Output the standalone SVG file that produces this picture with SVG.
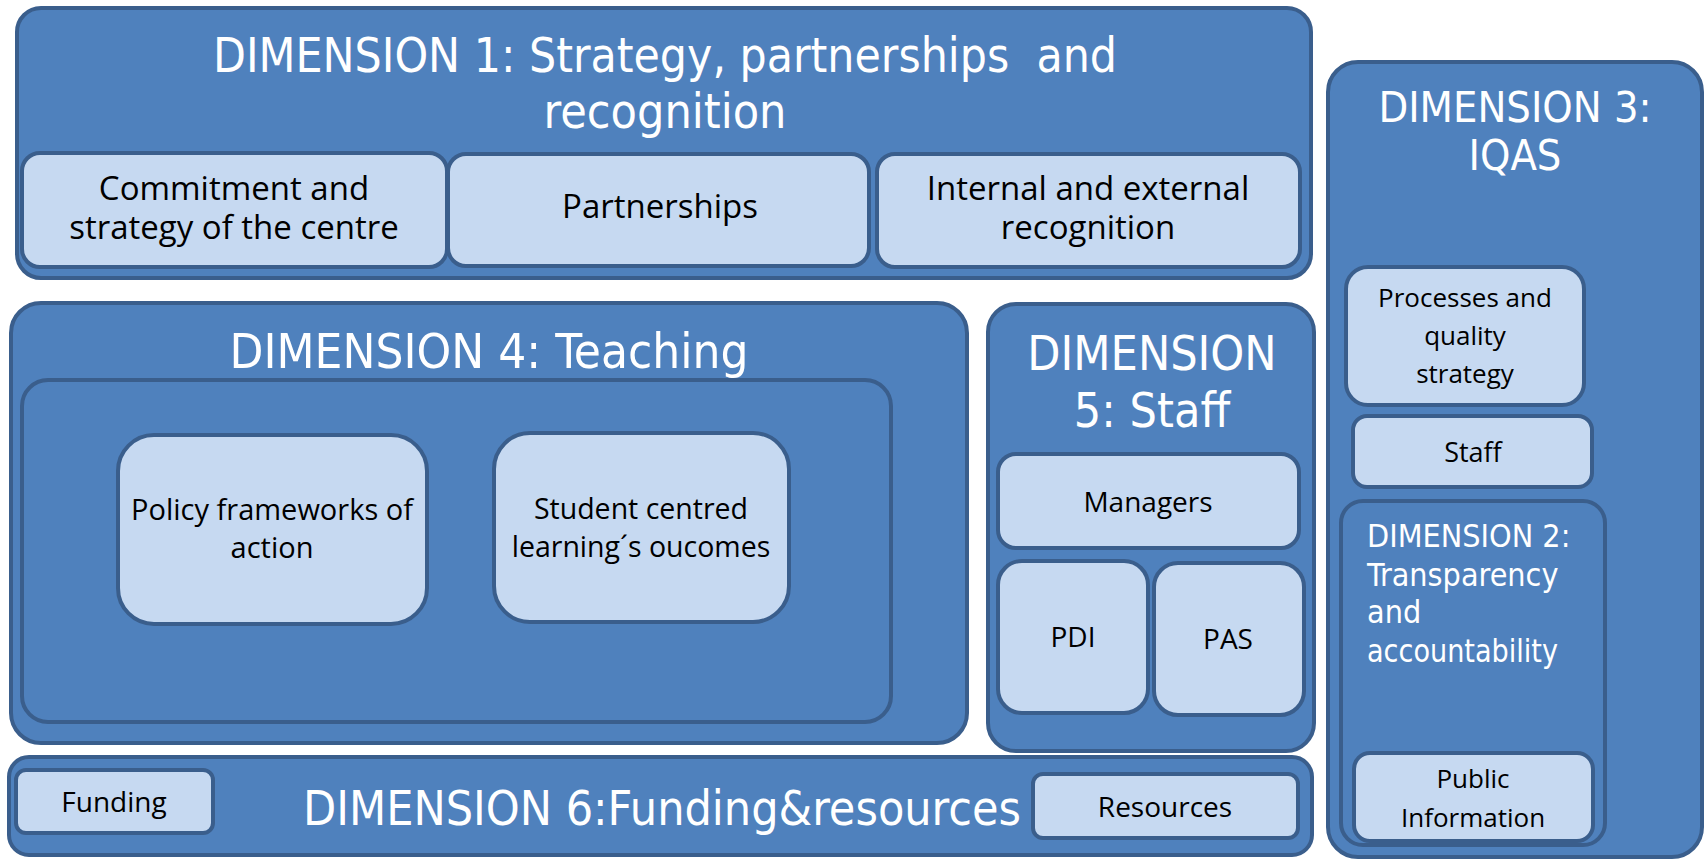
<svg xmlns="http://www.w3.org/2000/svg" width="1708" height="861" viewBox="0 0 1708 861">
<style>
.dim{fill:#4F81BD;stroke:#3A5E8C;stroke-width:4}
.box{fill:#C6D9F1;stroke:#3A5E8C;stroke-width:4}
.ttl{font-family:"DejaVu Sans Condensed","DejaVu Sans",sans-serif;fill:#FFFFFF;font-size:48px}
.lbl{font-family:"Open Sans","Noto Sans",sans-serif;fill:#000000;font-size:28px;text-anchor:middle}
.c{text-anchor:middle}
</style>
<rect x="0" y="0" width="1708" height="861" fill="#FFFFFF"/>

<g id="dim1">
<rect class="dim" x="17" y="8" width="1294" height="270" rx="24"/>
<text class="ttl c" x="665" y="72" xml:space="preserve" textLength="904" lengthAdjust="spacingAndGlyphs">DIMENSION 1: Strategy, partnerships  and</text>
<text class="ttl c" x="665" y="128">recognition</text>
</g>
<g id="commitment">
<rect class="box" x="22" y="153" width="425" height="114" rx="18"/>
<text class="lbl" x="234" y="200" style="font-size:33px">Commitment and</text>
<text class="lbl" x="234" y="239" style="font-size:33px">strategy of the centre</text>
</g>
<g id="partnerships">
<rect class="box" x="448" y="154" width="421" height="112" rx="18"/>
<text class="lbl" x="660" y="218" style="font-size:33px">Partnerships</text>
</g>
<g id="recognition">
<rect class="box" x="877" y="154" width="423" height="113" rx="18"/>
<text class="lbl" x="1088" y="200" style="font-size:33px">Internal and external</text>
<text class="lbl" x="1088" y="239" style="font-size:33px">recognition</text>
</g>

<g id="dim3">
<rect class="dim" x="1328" y="62" width="374" height="795" rx="30"/>
<text class="ttl c" x="1515" y="122" style="font-size:43px">DIMENSION 3:</text>
<text class="ttl c" x="1515" y="170" style="font-size:43px">IQAS</text>
</g>
<g id="processes">
<rect class="box" x="1346" y="267" width="238" height="138" rx="22"/>
<text class="lbl" x="1465" y="307" style="font-size:26px">Processes and</text>
<text class="lbl" x="1465" y="345" style="font-size:26px">quality</text>
<text class="lbl" x="1465" y="383" style="font-size:26px">strategy</text>
</g>
<g id="staff3">
<rect class="box" x="1353" y="416" width="239" height="71" rx="14"/>
<text class="lbl" x="1473" y="462" style="font-size:27px">Staff</text>
</g>
<g id="dim2">
<rect class="dim" x="1341" y="501" width="264" height="344" rx="22"/>
<text class="ttl" x="1367" y="547" style="font-size:32px">DIMENSION 2:</text>
<text class="ttl" x="1367" y="586" style="font-size:32px">Transparency</text>
<text class="ttl" x="1367" y="623" style="font-size:32px">and</text>
<text class="ttl" x="1367" y="662" style="font-size:32px" textLength="191" lengthAdjust="spacingAndGlyphs">accountability</text>
</g>
<g id="publicinfo">
<rect class="box" x="1354" y="753" width="239" height="88" rx="16"/>
<text class="lbl" x="1473" y="788" style="font-size:26px">Public</text>
<text class="lbl" x="1473" y="827" style="font-size:26px">Information</text>
</g>

<g id="dim4">
<rect class="dim" x="11" y="303" width="956" height="440" rx="30"/>
<text class="ttl c" x="489" y="368" textLength="519" lengthAdjust="spacingAndGlyphs">DIMENSION 4: Teaching</text>
<rect class="dim" x="22" y="380" width="869" height="342" rx="26"/>
</g>
<g id="policy">
<rect class="box" x="118" y="435" width="309" height="189" rx="36"/>
<text class="lbl" x="272" y="520" style="font-size:29px">Policy frameworks of</text>
<text class="lbl" x="272" y="558" style="font-size:29px">action</text>
</g>
<g id="student">
<rect class="box" x="494" y="433" width="295" height="189" rx="36"/>
<text class="lbl" x="641" y="519" style="font-size:28.5px">Student centred</text>
<text class="lbl" x="641" y="557" style="font-size:28.5px">learning´s oucomes</text>
</g>

<g id="dim5">
<rect class="dim" x="988" y="304" width="326" height="447" rx="28"/>
<text class="ttl c" x="1152" y="370">DIMENSION</text>
<text class="ttl c" x="1152" y="427">5: Staff</text>
</g>
<g id="managers">
<rect class="box" x="998" y="454" width="301" height="94" rx="18"/>
<text class="lbl" x="1148" y="512">Managers</text>
</g>
<g id="pdi">
<rect class="box" x="998" y="561" width="150" height="152" rx="24"/>
<text class="lbl" x="1073" y="647">PDI</text>
</g>
<g id="pas">
<rect class="box" x="1154" y="563" width="150" height="152" rx="24"/>
<text class="lbl" x="1228" y="649">PAS</text>
</g>

<g id="dim6">
<rect class="dim" x="9" y="757" width="1303" height="98" rx="20"/>
<text class="ttl c" x="662" y="825" textLength="718" lengthAdjust="spacingAndGlyphs">DIMENSION 6:Funding&amp;resources</text>
</g>
<g id="funding">
<rect class="box" x="16" y="770" width="197" height="63" rx="10"/>
<text class="lbl" x="114" y="812">Funding</text>
</g>
<g id="resources">
<rect class="box" x="1033" y="774" width="265" height="64" rx="10"/>
<text class="lbl" x="1165" y="817">Resources</text>
</g>

<g id="connectors"></g>
</svg>
